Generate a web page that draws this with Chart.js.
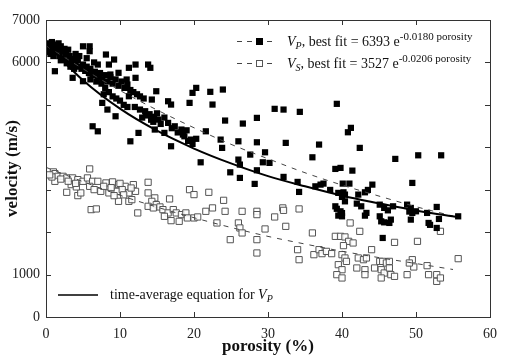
<!DOCTYPE html>
<html><head><meta charset="utf-8">
<script src="https://cdn.jsdelivr.net/npm/chart.js@4/dist/chart.umd.min.js"></script>
<style>html,body{margin:0;padding:0;background:#fff}#wrap{width:506px;height:362px}</style>
</head><body><div id="wrap"><canvas id="c" width="506" height="362"></canvas></div>
<script>
// ---- data ----
const vpPorosity = [0.2,0.5,0.8,1.0,1.2,1.5,1.7,2.0,2.2,2.5,0.3,0.6,1.0,1.3,1.8,2.3,2.7,3.0,3.2,3.5,3.8,4.0,4.3,4.5,2.8,3.3,4.8,5.0,5.3,5.5,5.8,6.0,6.3,6.6,7.0,7.3,7.6,8.0,8.3,8.7,9.0,9.4,9.8,10.2,10.6,11.0,11.4,11.8,12.3,12.7,13.2,
 5.0,5.9,5.9,8.1,9.2,8.5,1.2,3.6,5.0,11.2,12.1,13.8,14.1,10.9,12.1,7.2,8.7,9.8,10.7,11.2,14.9,19.8,20.3,19.4,16.5,16.9,14.3,7.6,8.3,9.4,6.3,7.0,12.5,11.4,16.9,
 12.7,13.4,14.0,14.6,15.2,13.0,14.2,15.0,16.5,17.4,18.3,18.7,19.6,14.7,16.0,
 22.2,23.9,22.5,30.9,32.1,34.3,39.3,24.2,26.6,28.5,21.6,19.2,19.8,20.3,23.6,26.0,28.5,32.4,36.9,23.8,27.6,29.6,36.0,20.9,26.0,26.2,29.3,30.2,39.1,39.8,24.9,28.5,26.2,32.1,34.0,28.2,36.4,37.1,37.5,34.2,39.5,39.1,39.8,40.0,
 40.8,41.2,42.4,47.2,50.3,53.4,41.4,
 40.1,41.0,44.1,49.5,40.2,40.4,40.0,42.2,43.1,39.3,40.0,39.5,40.4,42.0,42.6,43.3,43.1,45.1,45.7,46.2,46.9,45.3,45.7,46.4,46.6,45.1,45.5,48.8,49.3,49.5,50.0,49.3,51.5,51.7,52.8,53.1,52.8,55.7,38.4,43.5,51.9,49.1,
 7.5,8.0,8.5,9.0,9.5,10.0,6.8,7.8,10.5,11.0,12.0,13.5,14.5,15.5,16.0,17.0,17.8,18.5,19.0,3.0,4.0,5.5,6.5,7.0,4.5,6.0,2.0,3.8,0.1,0.9,1.6];
const vpVelocity = [6450,6400,6480,6350,6420,6300,6450,6380,6250,6320,6250,6200,6150,6250,6150,6100,6200,6050,6150,6000,6080,5950,6050,5900,5980,5900,5850,5950,5800,5900,5750,5850,5700,5780,5650,5750,5600,5700,5550,5650,5500,5600,5450,5550,5400,5480,5350,5300,5250,5200,5150,
 6380,6380,6265,6186,6068,5950,5793,5637,5557,5873,5950,5950,5873,5597,5637,5675,5715,5755,5400,5203,5321,5283,5400,5047,5085,5007,5125,5047,4889,4731,4495,4377,4339,4141,4024,
 4889,4850,4780,4720,4653,4700,4650,4800,4575,4495,4418,4259,4181,4418,4339,
 5307,5361,5007,4906,4889,4835,5024,4630,4559,4693,4377,4150,4080,4200,4181,4141,4118,4104,4064,3986,3828,3882,3764,3646,3710,3592,3646,3632,3490,3514,3410,3458,3278,3302,3184,3137,3080,3120,3144,2948,2925,2609,2491,2373,
 4354,4458,3986,3726,3811,3811,3450,
 3144,3144,3120,3160,2939,2885,2830,2885,2939,2550,2450,2390,2726,2672,2609,2453,2389,2648,2571,2514,2609,2255,2231,2217,2295,2373,1863,2648,2571,2453,2491,2295,2453,2217,2594,2311,2099,2373,2995,2995,2172,2485,
 5500,5400,5300,5200,5150,5100,5550,5250,5000,4950,4950,4750,4600,4550,4700,4450,4350,4300,4400,6300,6200,6100,6000,5950,6150,5600,6050,5850,6350,6300,6380];

const vsPorosity = [1.0,1.2,1.6,1.2,0.8,2.3,2.8,3.6,4.3,5.0,5.6,6.3,7.0,8.1,9.0,9.8,10.7,11.8,5.9,2.8,4.3,4.7,3.4,4.1,5.9,6.5,7.4,8.5,9.6,10.3,11.2,12.1,9.8,11.2,11.6,6.1,6.8,12.4,13.8,13.8,14.7,14.3,14.9,13.8,14.5,15.4,16.7,15.8,16.5,17.2,17.6,18.3,18.9,19.1,16.0,16.9,18.0,20.0,19.4,20.0,22.0,24.0,21.6,22.5,24.2,26.5,20.5,23.1,26.0,26.2,26.5,24.9,28.5,28.5,30.9,32.0,32.1,34.2,32.4,29.6,28.5,28.5,36.0,41.1,42.4,39.1,39.8,40.4,40.9,40.2,41.5,47.1,50.2,34.0,34.2,36.2,36.9,37.3,37.9,38.6,40.0,40.4,40.6,39.5,40.0,39.3,40.0,42.0,42.2,42.9,43.3,44.0,43.1,43.1,44.4,45.1,45.5,46.0,46.4,45.3,45.7,45.3,46.6,47.1,46.4,48.8,49.5,49.7,49.1,51.5,51.7,52.8,52.8,53.3,53.3,55.7,
 0.5,2.0,3.0,4.0,7.8,8.8,10.0,11.5,9.2,10.5];
const vsVelocity = [3420,3380,3316,3198,3300,3316,3278,3278,3238,3198,3278,3198,3198,3160,3184,3120,3080,3120,3490,2939,2861,2925,3120,3066,3080,3002,2962,2925,2962,3002,2925,2962,2726,2726,2766,2531,2547,2453,3175,2925,2807,2726,2648,2609,2571,2594,2783,2531,2453,2531,2453,2413,2453,2335,2373,2271,2255,2335,3002,2885,2939,2750,2491,2571,2491,2491,2358,2217,2217,2099,1981,1823,2491,2413,2358,2571,2514,2547,2137,2075,1823,1509,1981,2217,2019,1901,1901,1887,1783,1682,1745,1759,1783,1587,1351,1469,1587,1493,1547,1493,1469,1391,1311,1233,1115,998,920,1155,1391,1351,1391,1587,1115,998,1155,1311,1311,1273,1311,1115,1037,920,998,958,1155,998,1351,1179,1273,1210,998,998,840,920,2019,1375,
 3350,3250,3200,3150,3080,3050,3150,3040,2860,2880];

const fitPorosity = [0,5,10,15,20,25,30,35,40,45,50,55];
const vpFitVelocity = [6393,5850,5340,4880,4460,4070,3730,3400,3110,2850,2600,2380];
const vsFitVelocity = [3527,3190,2870,2590,2340,2110,1900,1720,1550,1400,1260,1120];

const timeAvgPorosity = [0,5,10,15,20,25,30,35,40,45,50,55.7];
const timeAvgVelocity = [6450,5580,4910,4390,3970,3620,3320,3080,2860,2680,2510,2350];

const xTickValues = [0,10,20,30,40,50,60];
const yTickLabels = ['0','1000','6000','7000'];

const pts = (xs, ys) => xs.map((x, i) => ({x, y: ys[i]}));

const frameTicks = {
  id: 'frameTicks',
  afterDraw(chart) {
    const {ctx, chartArea: a, scales: {x, y}} = chart;
    ctx.save();
    ctx.strokeStyle = '#333';
    ctx.lineWidth = 1;
    ctx.strokeRect(a.left + 0.5, a.top + 0.5, a.right - a.left, a.bottom - a.top);
    ctx.beginPath();
    x.ticks.forEach(t => {
      const px = Math.round(x.getPixelForValue(t.value)) + 0.5;
      ctx.moveTo(px, a.bottom); ctx.lineTo(px, a.bottom - 5);
      ctx.moveTo(px, a.top); ctx.lineTo(px, a.top + 5);
    });
    y.ticks.forEach(t => {
      const py = Math.round(y.getPixelForValue(t.value)) + 0.5;
      ctx.moveTo(a.left, py); ctx.lineTo(a.left + 5, py);
      ctx.moveTo(a.right, py); ctx.lineTo(a.right - 5, py);
    });
    ctx.stroke();

    // legend (top right)
    const serif = '"Liberation Serif", "DejaVu Serif", serif';
    const drawEntry = (yy, filled, sub, coef, expo) => {
      ctx.save();
      ctx.strokeStyle = '#444'; ctx.setLineDash([5,5]);
      ctx.beginPath(); ctx.moveTo(237, yy + 0.5); ctx.lineTo(273, yy + 0.5); ctx.stroke();
      ctx.restore();
      ctx.fillStyle = '#fff';
      ctx.fillRect(254, yy - 4, 9, 9);
      if (filled) { ctx.fillStyle = '#000'; ctx.fillRect(256, yy - 3, 7, 7); }
      else { ctx.strokeStyle = '#555'; ctx.strokeRect(256.5, yy - 2.5, 6, 6); }
      let cx = 287;
      ctx.fillStyle = '#111';
      ctx.textBaseline = 'alphabetic';
      ctx.font = 'italic 14px ' + serif;
      ctx.fillText('V', cx, yy + 5); cx += ctx.measureText('V').width;
      ctx.font = 'italic 10px ' + serif;
      ctx.fillText(sub, cx, yy + 8); cx += ctx.measureText(sub).width;
      ctx.font = '14px ' + serif;
      const t = ', best fit = ' + coef + ' e';
      ctx.fillText(t, cx, yy + 5); cx += ctx.measureText(t).width;
      ctx.font = '11px ' + serif;
      ctx.fillText(expo + ' porosity', cx, yy - 1);
    };
    drawEntry(41, true, 'P', '6393', '-0.0180');
    drawEntry(63, false, 'S', '3527', '-0.0206');

    // legend (bottom left)
    ctx.strokeStyle = '#000'; ctx.lineWidth = 1.5; ctx.setLineDash([]);
    ctx.beginPath(); ctx.moveTo(58, 295); ctx.lineTo(98, 295); ctx.stroke();
    ctx.fillStyle = '#111';
    ctx.font = '14px ' + serif;
    let bx = 110;
    const bt = 'time-average equation for ';
    ctx.fillText(bt, bx, 299); bx += ctx.measureText(bt).width;
    ctx.font = 'italic 14px ' + serif;
    ctx.fillText('V', bx, 299); bx += ctx.measureText('V').width;
    ctx.font = 'italic 10px ' + serif;
    ctx.fillText('P', bx, 302);
    ctx.restore();
  }
};

const serifFam = '"Liberation Serif", "DejaVu Serif", serif';

new Chart(document.getElementById('c'), {
  type: 'scatter',
  data: {
    datasets: [
      { label: 'Vs', data: pts(vsPorosity, vsVelocity), pointStyle: 'rect', pointRadius: 4.4,
        backgroundColor: 'rgba(255,255,255,0.9)', borderColor: '#555', borderWidth: 1, order: 3 },
      { label: 'Vp', data: pts(vpPorosity, vpVelocity), pointStyle: 'rect', pointRadius: 4.4,
        backgroundColor: '#000', borderColor: '#000', borderWidth: 0, order: 2 },
      { label: 'Vp fit', data: pts(fitPorosity, vpFitVelocity), showLine: true, pointRadius: 0,
        borderColor: '#444', borderWidth: 1, borderDash: [5,6], tension: 0.4, cubicInterpolationMode: 'monotone', order: 1 },
      { label: 'Vs fit', data: pts(fitPorosity, vsFitVelocity), showLine: true, pointRadius: 0,
        borderColor: '#444', borderWidth: 1, borderDash: [5,6], tension: 0.4, cubicInterpolationMode: 'monotone', order: 1 },
      { label: 'time-average', data: pts(timeAvgPorosity, timeAvgVelocity), showLine: true, pointRadius: 0,
        borderColor: '#000', borderWidth: 2, tension: 0.4, cubicInterpolationMode: 'monotone', order: 0 }
    ]
  },
  options: {
    responsive: false,
    animation: false,
    events: [],
    layout: { padding: { top: 20, right: 9, left: 0, bottom: 0 } },
    plugins: { legend: { display: false }, tooltip: { enabled: false } },
    scales: {
      x: {
        type: 'linear', min: 0, max: 60,
        afterBuildTicks: s => { s.ticks = xTickValues.map(v => ({value: v})); },
        afterFit: s => { s.height = 45; },
        grid: { display: false, drawTicks: false },
        border: { display: false },
        ticks: { padding: 9, color: '#222', font: { family: serifFam, size: 14 }, maxRotation: 0 },
        title: { display: true, text: 'porosity (%)', color: '#111',
                 font: { family: serifFam, size: 17, weight: 'bold' }, padding: { top: 0, bottom: 5 } }
      },
      y: {
        type: 'linear', min: 0, max: 7000,
        ticks: { stepSize: 1000, padding: 6, color: '#222', font: { family: serifFam, size: 14 },
                 callback: v => yTickLabels.includes(String(v)) ? String(v) : '' },
        afterFit: s => { s.width = 46; },
        grid: { display: false, drawTicks: false },
        border: { display: false },
        title: { display: true, text: 'velocity (m/s)', color: '#111',
                 font: { family: serifFam, size: 17, weight: 'bold' }, padding: { top: 2, bottom: 0 } }
      }
    }
  },
  plugins: [frameTicks]
});
</script></body></html>
